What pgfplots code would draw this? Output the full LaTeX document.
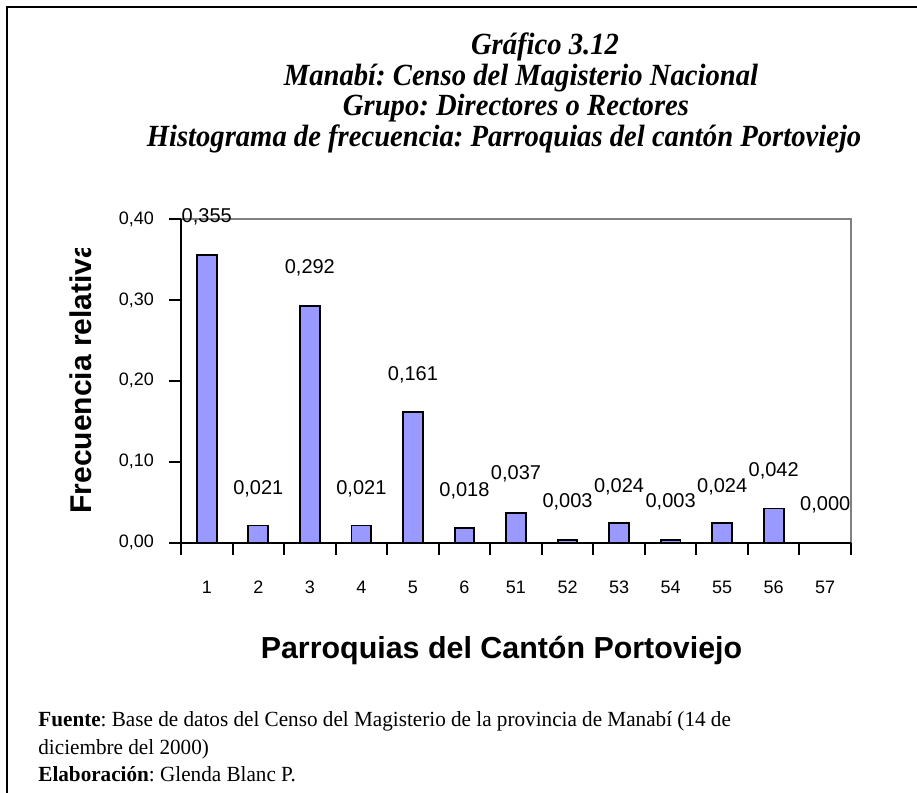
\documentclass[border=0pt]{standalone}
\usepackage{fontspec}
\setmainfont{Liberation Serif}
\setsansfont{Liberation Sans}
\usepackage{graphicx}
\usepackage{pgfplots}
\pgfplotsset{compat=1.18}
\definecolor{barfill}{HTML}{9999FF}
\definecolor{plotgray}{HTML}{808080}
\frenchspacing

\begin{document}
\begin{tikzpicture}
% page layout in pixel units of the reference (y downwards)
\begin{scope}[x=0.5pt,y=-0.5pt]
\path[use as bounding box] (0,0) rectangle (917,793);
\draw[line width=1pt] (7,793) -- (7,7) -- (917,7);
\begin{scope}[font=\fontsize{15.4}{17}\selectfont\bfseries\itshape, inner sep=0pt]
\node[anchor=base] at (545,54) {\scalebox{0.93}[1]{Gráfico 3.12}};
\node[anchor=base] at (521,85) {\scalebox{0.93}[1]{Manabí: Censo del Magisterio Nacional}};
\node[anchor=base] at (516,115) {\scalebox{0.93}[1]{Grupo: Directores o Rectores}};
\node[anchor=base] at (504,146) {\scalebox{0.93}[1]{Histograma de frecuencia: Parroquias del cantón Portoviejo}};
\end{scope}
\begin{scope}[font=\fontsize{10.8}{12}\selectfont, inner sep=0pt]
\node[anchor=base west] at (38,726) {\scalebox{0.98}[1]{\textbf{Fuente}: Base de datos del Censo del Magisterio de la provincia de Manabí (14 de}};
\node[anchor=base west] at (38,754) {\scalebox{0.98}[1]{diciembre del 2000)}};
\node[anchor=base west] at (38,781) {\scalebox{0.98}[1]{\textbf{Elaboración}: Glenda Blanc P.}};
\end{scope}
\node[font=\sffamily\bfseries\fontsize{15.2}{17}\selectfont] at (501.5,650) {Parroquias del Cantón Portoviejo};
\begin{scope}
\clip (40,248) rectangle (120,560);
\node[font=\sffamily\bfseries\fontsize{15}{17}\selectfont, rotate=90, anchor=south west, inner sep=0pt] at (92,514) {Frecuencia relativa};
\end{scope}
\end{scope}

\begin{axis}[
  at={(90.5pt,-271.25pt)}, anchor=south west,
  scale only axis, width=335pt, height=161.75pt,
  xmin=-0.5, xmax=12.5, ymin=0, ymax=0.4,
  ybar, bar width=9.9pt, clip=false,
  axis line style={draw=none},
  xtick pos=bottom, ytick pos=left,
  tick align=outside, major tick length=6pt,
  tick style={black, line width=1pt},
  xtick={-0.5,0.5,...,12.5}, xticklabels={},
  extra x ticks={0,...,12},
  extra x tick labels={1,2,3,4,5,6,51,52,53,54,55,56,57},
  extra x tick style={major tick length=0pt},
  xticklabel style={font=\sffamily\fontsize{9}{10}\selectfont, anchor=base, yshift=-25.5pt},
  ytick={0,0.1,0.2,0.3,0.4},
  yticklabel style={font=\sffamily\fontsize{9}{10}\selectfont, xshift=-4pt},
  /pgf/number format/.cd, fixed, fixed zerofill, precision=2, use comma, assume math mode=true,
]
\addplot[fill=barfill, draw=black, line width=0.95pt] coordinates {
(0,0.355) (1,0.021) (2,0.292) (3,0.021) (4,0.161) (5,0.018) (6,0.037)
(7,0.003) (8,0.024) (9,0.003) (10,0.024) (11,0.042) (12,0.000)
};
\draw[plotgray, line width=1pt] (rel axis cs:0,1) -- (rel axis cs:1,1) -- (rel axis cs:1,0);
\draw[black, line width=1pt] (rel axis cs:0,1) -- (rel axis cs:0,0) -- (rel axis cs:1,0);
\begin{scope}[font=\sffamily\fontsize{10}{12}\selectfont]
\node at (axis cs:0,0.4028) {0,355};
\node at (axis cs:1,0.0662) {0,021};
\node at (axis cs:2,0.3397) {0,292};
\node at (axis cs:3,0.0662) {0,021};
\node at (axis cs:4,0.2073) {0,161};
\node at (axis cs:5,0.0637) {0,018};
\node at (axis cs:6,0.0848) {0,037};
\node at (axis cs:7,0.0501) {0,003};
\node at (axis cs:8,0.0687) {0,024};
\node at (axis cs:9,0.0501) {0,003};
\node at (axis cs:10,0.0687) {0,024};
\node at (axis cs:11,0.0885) {0,042};
\node at (axis cs:12,0.0464) {0,000};
\end{scope}
\end{axis}
\end{tikzpicture}
\end{document}
